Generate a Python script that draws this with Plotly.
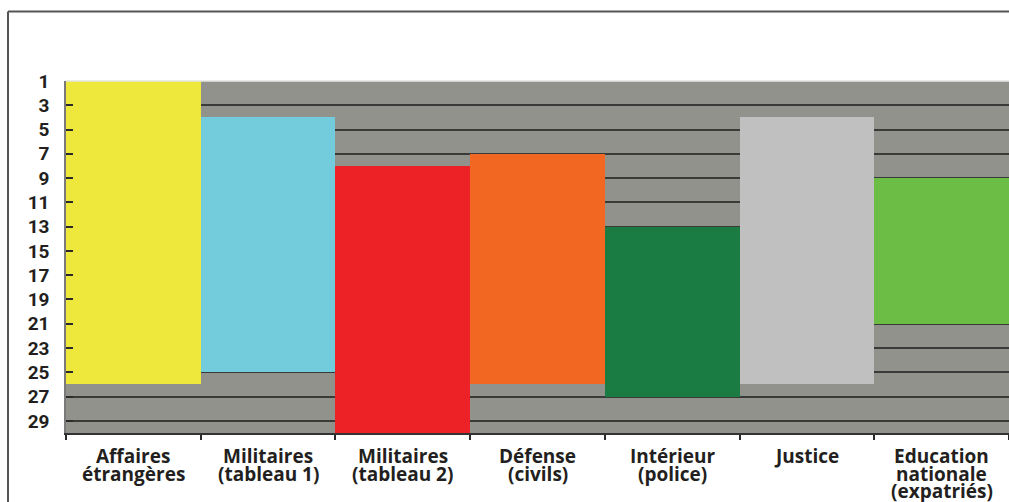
import plotly.graph_objects as go

# Ministries and the rank span (top / bottom) each one covers
categories = ["Affaires étrangères", "Militaires (tableau 1)", "Militaires (tableau 2)",
              "Défense (civils)", "Intérieur (police)", "Justice", "Education nationale (expatriés)"]
label_lines = [["Affaires", "étrangères"], ["Militaires", "(tableau 1)"], ["Militaires", "(tableau 2)"],
               ["Défense", "(civils)"], ["Intérieur", "(police)"], ["Justice"],
               ["Education", "nationale", "(expatriés)"]]
rank_top = [1, 4, 8, 7, 13, 4, 9]
rank_bottom = [26, 25, 30, 26, 27, 26, 21]
colors = ["#efe83c", "#72ccdc", "#ec2227", "#f26722", "#1a7c42", "#c0c0c0", "#6cbd45"]
y_ticks = list(range(1, 30, 2))

fig = go.Figure(go.Bar(
    x=categories,
    base=rank_top,
    y=[b - t for t, b in zip(rank_top, rank_bottom)],
    marker=dict(color=colors, line=dict(width=0)),
    hoverinfo="skip",
))

W, H = 1009, 502
L, R, T, B = 66, 0, 81, 69
pw, ph = W - L - R, H - T - B

fig.update_layout(
    width=W, height=H,
    margin=dict(l=L, r=R, t=T, b=B),
    paper_bgcolor="white",
    plot_bgcolor="#92928c",
    bargap=0,
    showlegend=False,
)
fig.update_yaxes(
    range=[30, 1], tickvals=y_ticks, ticktext=[str(v) for v in y_ticks],
    showgrid=True, gridcolor="#3a3a38", gridwidth=1.5,
    ticks="inside", ticklen=7, tickwidth=1.5, tickcolor="#2a2a2a",
    showline=True, linecolor="#7a7a7a", linewidth=1.5,
    tickfont=dict(family="Roboto", size=19, color="#231f20", weight="bold"),
    ticklabelstandoff=11,
    zeroline=False,
)
fig.update_xaxes(
    tickson="boundaries", ticks="outside", ticklen=5, tickwidth=1.5, tickcolor="#2a2a2a",
    showticklabels=False, showline=True, linecolor="#333333", linewidth=1.5,
    showgrid=False,
)

# Category labels, one annotation per line for tight leading
line_step = 17.5
for cat, lines in zip(categories, label_lines):
    for i, txt in enumerate(lines):
        fig.add_annotation(
            x=cat, xref="x", y=0, yref="paper",
            text=txt, showarrow=False,
            xanchor="center", yanchor="middle",
            yshift=-(23 + i * line_step), borderpad=0,
            font=dict(family="Open Sans", size=19, color="#231f20", weight="bold"),
        )

# light rule along the top edge of the plot
fig.add_shape(type="line", xref="paper", yref="paper", x0=0, x1=1, y0=1, y1=1,
              line=dict(color="#e4e4e2", width=1.5), layer="above")

# frame: top and left rules
fx = (8 - L) / pw
fy = 1 + (T - 11.5) / ph
fig.add_shape(type="line", xref="paper", yref="paper", x0=fx, x1=1.01, y0=fy, y1=fy,
              line=dict(color="#555555", width=2))
fig.add_shape(type="line", xref="paper", yref="paper", x0=fx, x1=fx, y0=fy, y1=-0.3,
              line=dict(color="#555555", width=2))

fig.write_html("out.html")
